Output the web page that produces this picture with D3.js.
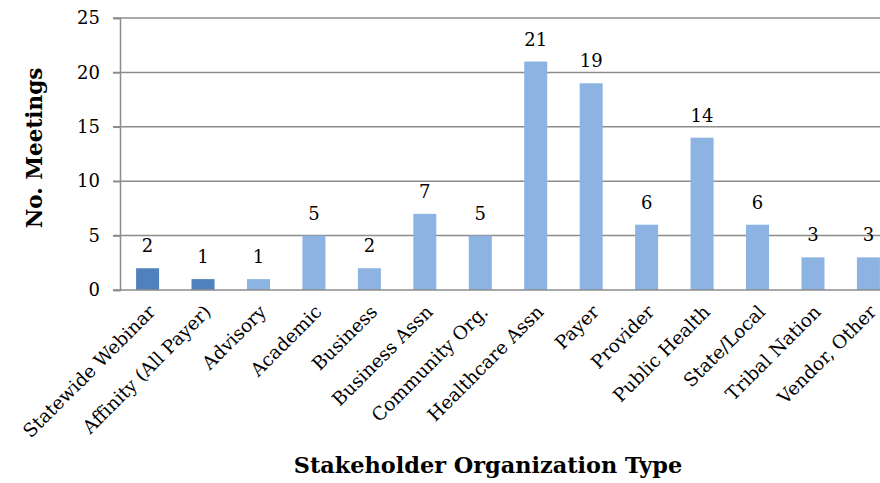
<!DOCTYPE html>
<html>
<head>
<meta charset="utf-8">
<script src="https://cdn.jsdelivr.net/npm/d3@7"></script>
<style>
  body { margin: 0; background: #fff; }
  text { font-family: "DejaVu Serif", serif; fill: #000; }
</style>
</head>
<body>
<svg id="chart" width="880" height="483"></svg>
<script>
// data
const categories = ["Statewide Webinar", "Affinity (All Payer)", "Advisory", "Academic", "Business",
  "Business Assn", "Community Org.", "Healthcare Assn", "Payer", "Provider", "Public Health",
  "State/Local", "Tribal Nation", "Vendor, Other"];
const meetings = [2, 1, 1, 5, 2, 7, 5, 21, 19, 6, 14, 6, 3, 3];
const yTicks = [0, 5, 10, 15, 20, 25];
const darkBars = ["Statewide Webinar", "Affinity (All Payer)"];

const svg = d3.select("#chart");
const plotLeft = 120, plotRight = 896, plotTop = 18, plotBottom = 290;
const fs = 18;

const x = d3.scaleBand().domain(categories).range([plotLeft, plotRight]).paddingInner(0.585).paddingOuter(0.29);
const y = d3.scaleLinear().domain([0, 25]).range([plotBottom, plotTop]);

// gridlines
svg.append("g").selectAll("line")
  .data(yTicks.filter(d => d > 0))
  .join("line")
  .attr("x1", plotLeft - 7).attr("x2", plotRight)
  .attr("y1", d => y(d)).attr("y2", d => y(d))
  .attr("stroke", "#8c8c8c").attr("stroke-width", 1.5);

// y axis
const yAxis = svg.append("g")
  .attr("transform", `translate(${plotLeft},0)`)
  .call(d3.axisLeft(y).tickValues(yTicks).tickSize(7).tickPadding(13));
yAxis.select(".domain").attr("stroke", "#8c8c8c").attr("stroke-width", 1.5);
yAxis.selectAll(".tick line").attr("stroke", "#8c8c8c").attr("stroke-width", 1.5);
yAxis.selectAll("text").attr("font-size", fs).attr("font-family", "DejaVu Serif").attr("fill", "#000");

// bars
svg.append("g").selectAll("rect")
  .data(categories)
  .join("rect")
  .attr("x", d => x(d))
  .attr("width", x.bandwidth())
  .attr("y", (d, i) => y(meetings[i]))
  .attr("height", (d, i) => plotBottom - y(meetings[i]))
  .attr("fill", d => darkBars.includes(d) ? "#4f81bd" : "#8db3e2");

// value labels
svg.append("g").selectAll("text")
  .data(categories)
  .join("text")
  .attr("x", d => x(d) + x.bandwidth() / 2)
  .attr("y", (d, i) => y(meetings[i]) - 16)
  .attr("text-anchor", "middle")
  .attr("font-size", fs)
  .text((d, i) => meetings[i]);

// x axis line
svg.append("line")
  .attr("x1", plotLeft - 7).attr("x2", plotRight)
  .attr("y1", plotBottom).attr("y2", plotBottom)
  .attr("stroke", "#8c8c8c").attr("stroke-width", 1.5);

// category labels, rotated
svg.append("g").selectAll("text")
  .data(categories)
  .join("text")
  .attr("text-anchor", "end")
  .attr("font-size", 18.5)
  .attr("transform", d => `translate(${x(d) + x.bandwidth() / 2 + 9},${plotBottom + 23}) rotate(-45)`)
  .text(d => d);

// axis titles
svg.append("text")
  .attr("transform", `translate(42,148) rotate(-90)`)
  .attr("text-anchor", "middle")
  .attr("font-size", 21.5).attr("font-weight", "bold")
  .text("No. Meetings");

svg.append("text")
  .attr("x", 488).attr("y", 473)
  .attr("text-anchor", "middle")
  .attr("font-size", 22.4).attr("font-weight", "bold")
  .text("Stakeholder Organization Type");
</script>
</body>
</html>
